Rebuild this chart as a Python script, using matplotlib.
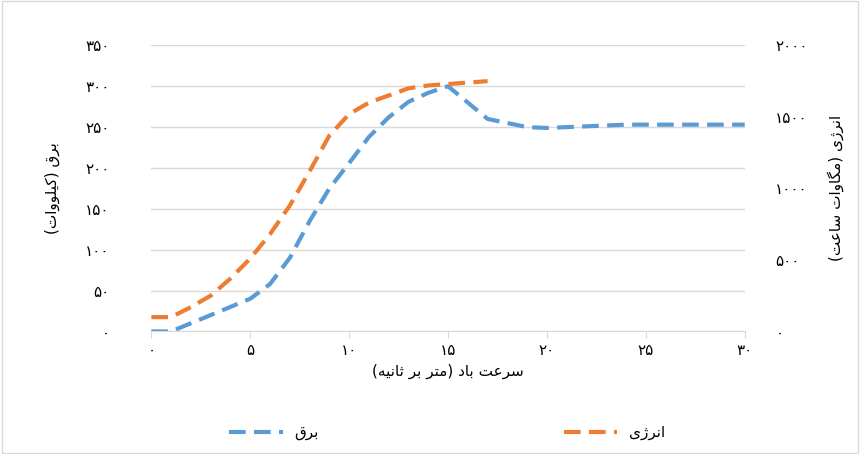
import matplotlib
matplotlib.use("Agg")
import matplotlib.pyplot as plt

FORMS = {
    'ا': (0xFE8D, 0xFE8E, None, None), 'ب': (0xFE8F, 0xFE90, 0xFE91, 0xFE92),
    'ت': (0xFE95, 0xFE96, 0xFE97, 0xFE98), 'ث': (0xFE99, 0xFE9A, 0xFE9B, 0xFE9C),
    'د': (0xFEA9, 0xFEAA, None, None), 'ر': (0xFEAD, 0xFEAE, None, None),
    'ژ': (0xFB8A, 0xFB8B, None, None), 'س': (0xFEB1, 0xFEB2, 0xFEB3, 0xFEB4),
    'ع': (0xFEC9, 0xFECA, 0xFECB, 0xFECC), 'ق': (0xFED5, 0xFED6, 0xFED7, 0xFED8),
    'ک': (0xFB8E, 0xFB8F, 0xFB90, 0xFB91), 'گ': (0xFB92, 0xFB93, 0xFB94, 0xFB95),
    'ل': (0xFEDD, 0xFEDE, 0xFEDF, 0xFEE0), 'م': (0xFEE1, 0xFEE2, 0xFEE3, 0xFEE4),
    'ن': (0xFEE5, 0xFEE6, 0xFEE7, 0xFEE8), 'ه': (0xFEE9, 0xFEEA, 0xFEEB, 0xFEEC),
    'و': (0xFEED, 0xFEEE, None, None), 'ی': (0xFBFC, 0xFBFD, 0xFBFE, 0xFBFF),
}

def shape(s):
    out = []
    n = len(s)
    for i, c in enumerate(s):
        if c not in FORMS:
            out.append(c); continue
        prev = s[i-1] if i > 0 else ''
        nxt = s[i+1] if i < n-1 else ''
        jp = prev in FORMS and FORMS[prev][2] is not None
        jn = nxt in FORMS and FORMS[c][2] is not None
        iso, fin, ini, med = FORMS[c]
        if jp and jn: code = med
        elif jp: code = fin
        elif jn: code = ini
        else: code = iso
        out.append(chr(code))
    r = ''.join(reversed(out))
    return r.translate(str.maketrans('()', ')('))

def fa_digits(v):
    return str(v).translate(str.maketrans('0123456789', '۰۱۲۳۴۵۶۷۸۹'))

wind = list(range(0, 31))
power = [0, 0, 10, 20, 30, 40, 58, 90, 135, 175, 206, 238, 262, 281, 292, 300, 280, 260,
         255, 250, 249, 250, 251, 252, 253, 253, 253, 253, 253, 253, 253]
wind_e = list(range(0, 18))
energy = [100, 100, 170, 250, 370, 510, 680, 880, 1120, 1370, 1520, 1600, 1650, 1700, 1720,
          1730, 1740, 1750]

blue = '#5B9BD5'
orange = '#ED7D31'

fig = plt.figure(figsize=(8.6, 4.54), dpi=100)
ax = fig.add_axes([0.176, 0.27, 0.69, 0.63])
ax.plot(wind, power, color=blue, lw=3, dashes=(4, 2), label=shape('برق'))
ax2 = ax.twinx()
ax2.plot(wind_e, energy, color=orange, lw=3, dashes=(4, 2), label=shape('انرژی'))

ax.set_xlim(0, 30)
ax.set_ylim(0, 350)
ax2.set_ylim(0, 2000)
ax.set_yticks(range(0, 351, 50))
ax.set_yticklabels([fa_digits(v) for v in range(0, 351, 50)])
ax2.set_yticks(range(0, 2001, 500))
ax2.set_yticklabels([fa_digits(v) for v in range(0, 2001, 500)])
ax.set_xticks(range(0, 31, 5))
ax.set_xticklabels([fa_digits(v) for v in range(0, 31, 5)])
ax.grid(axis='y', color='#D9D9D9', lw=1)
for a in (ax, ax2):
    for s in ('top', 'left', 'right'):
        a.spines[s].set_visible(False)
    a.tick_params(axis='y', length=0, labelsize=11)
ax.tick_params(axis='y', pad=30)
ax2.tick_params(axis='y', pad=22)
ax2.spines['bottom'].set_visible(False)
ax.spines['bottom'].set_color('#D9D9D9')
ax.tick_params(axis='x', color='#D9D9D9', length=5, labelsize=11)
ax.set_axisbelow(True)

ax.set_ylabel(shape('برق (کیلووات)'), fontsize=11, labelpad=18)
ax2.set_ylabel(shape('انرژی (مگاوات ساعت)'), fontsize=11, rotation=90, labelpad=14)
ax.set_xlabel(shape('سرعت باد (متر بر ثانیه)'), fontsize=11)

h1, l1 = ax.get_legend_handles_labels()
h2, l2 = ax2.get_legend_handles_labels()
fig.legend(h1 + h2, l1 + l2, loc='lower center', ncol=2, frameon=False,
           bbox_to_anchor=(0.52, 0.0), columnspacing=16, fontsize=11, handlelength=3.5)

fig.patches.append(plt.Rectangle((0.002, 0.002), 0.996, 0.996, transform=fig.transFigure,
                                 fill=False, edgecolor='#D9D9D9', lw=1))
fig.savefig('out.png', dpi=100)
